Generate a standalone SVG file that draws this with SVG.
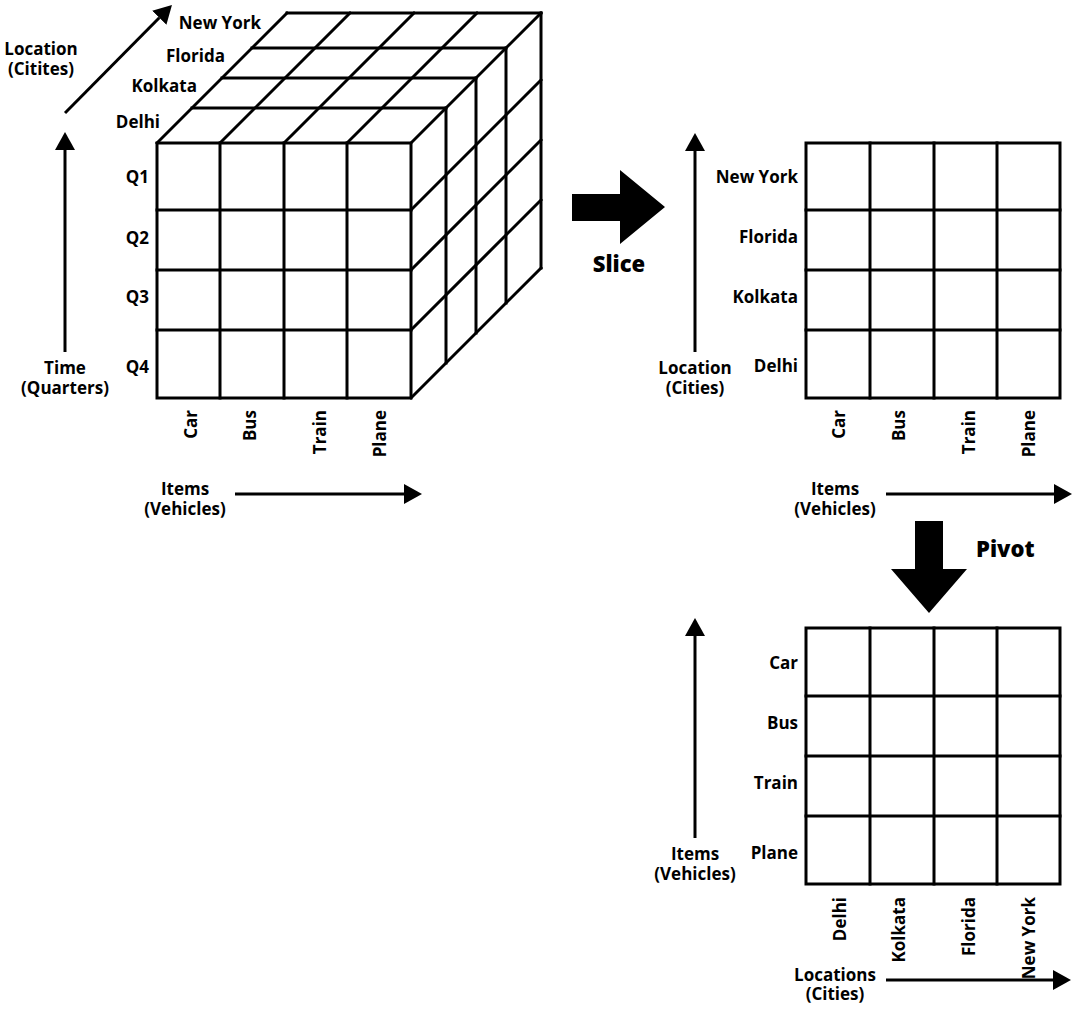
<svg xmlns="http://www.w3.org/2000/svg" width="1076" height="1012" viewBox="0 0 1076 1012">
<style>
.g{fill:none;stroke:#000;stroke-width:3;stroke-linecap:square}
.ax{fill:none;stroke:#000;stroke-width:3}
text{font-family:"Open Sans","Noto Sans","Liberation Sans",sans-serif;font-weight:bold;font-size:17px;fill:#000}
.e{text-anchor:end}
.m{text-anchor:middle}
.big{font-size:22px;font-weight:800}
</style>
<defs>
<marker id="ah" viewBox="0 0 18 20" refX="0" refY="10" markerWidth="18" markerHeight="20" markerUnits="userSpaceOnUse" orient="auto">
<path d="M0,0 L18,10 L0,20 z" fill="#000"/>
</marker>
</defs>
<rect width="1076" height="1012" fill="#fff"/>

<g id="cube">
<g class="g">
<rect x="157" y="143" width="254" height="255"/>
<path d="M220,143V398M284,143V398M347,143V398M157,210H411M157,270H411M157,330H411"/>
<path d="M192,108H446M222,78H476M252,48H506M287,13H541"/>
<path d="M157,143L287,13M220,143L350,13M284,143L414,13M347,143L477,13M411,143L541,13"/>
<path d="M446,108V363M476,78V333M506,48V303M541,13V268"/>
<path d="M411,210L541,80M411,270L541,140M411,330L541,200M411,398L541,268"/>
</g>
<text class="e" x="261" y="29">New York</text>
<text class="e" x="225" y="62">Florida</text>
<text class="e" x="197" y="92">Kolkata</text>
<text class="e" x="160" y="128">Delhi</text>
<text class="e" x="149" y="183">Q1</text>
<text class="e" x="149" y="244">Q2</text>
<text class="e" x="149" y="303">Q3</text>
<text class="e" x="149" y="373">Q4</text>
<text class="e" transform="translate(197,410) rotate(-90)">Car</text>
<text class="e" transform="translate(256,410) rotate(-90)">Bus</text>
<text class="e" transform="translate(326,410) rotate(-90)">Train</text>
<text class="e" transform="translate(386,410) rotate(-90)">Plane</text>
<text class="m" x="41" y="55">Location<tspan x="41" dy="20">(Citites)</tspan></text>
<text class="m" x="65" y="374">Time<tspan x="65" dy="20">(Quarters)</tspan></text>
<text class="m" x="185" y="495">Items<tspan x="185" dy="20">(Vehicles)</tspan></text>
</g>

<g id="slice-grid">
<g class="g">
<rect x="806" y="143" width="254" height="255"/>
<path d="M870,143V398M934,143V398M997,143V398M806,210H1060M806,270H1060M806,330H1060"/>
</g>
<text class="e" x="798" y="183">New York</text>
<text class="e" x="798" y="243">Florida</text>
<text class="e" x="798" y="303">Kolkata</text>
<text class="e" x="798" y="372">Delhi</text>
<text class="e" transform="translate(845,410) rotate(-90)">Car</text>
<text class="e" transform="translate(905,410) rotate(-90)">Bus</text>
<text class="e" transform="translate(975,410) rotate(-90)">Train</text>
<text class="e" transform="translate(1035,410) rotate(-90)">Plane</text>
<text class="m" x="695" y="374">Location<tspan x="695" dy="20">(Cities)</tspan></text>
<text class="m" x="835" y="495">Items<tspan x="835" dy="20">(Vehicles)</tspan></text>
</g>

<g id="pivot-grid">
<g class="g">
<rect x="806" y="628" width="254" height="256"/>
<path d="M870,628V884M934,628V884M997,628V884M806,696H1060M806,756H1060M806,816H1060"/>
</g>
<text class="e" x="798" y="669">Car</text>
<text class="e" x="798" y="729">Bus</text>
<text class="e" x="798" y="789">Train</text>
<text class="e" x="798" y="859">Plane</text>
<text class="e" transform="translate(846,897) rotate(-90)">Delhi</text>
<text class="e" transform="translate(905,897) rotate(-90)">Kolkata</text>
<text class="e" transform="translate(975,897) rotate(-90)">Florida</text>
<text class="e" transform="translate(1035,897) rotate(-90)">New York</text>
<text class="m" x="695" y="860">Items<tspan x="695" dy="20">(Vehicles)</tspan></text>
<text class="m" x="835" y="981">Locations<tspan x="835" dy="19">(Cities)</tspan></text>
</g>

<g id="slice-op">
<polygon points="572,194 620,194 620,170 665,207 620,244 620,221 572,221" fill="#000"/>
<text class="m big" x="619" y="272">Slice</text>
</g>

<g id="pivot-op">
<polygon points="915,521 943,521 943,569 967,569 929,613 891,569 915,569" fill="#000"/>
<text class="big" x="976" y="557">Pivot</text>
</g>

<g id="connectors" class="ax">
<line x1="65" y1="352" x2="65" y2="150" marker-end="url(#ah)"/>
<line x1="65" y1="113" x2="159.3" y2="17.8" marker-end="url(#ah)"/>
<line x1="235" y1="494" x2="404" y2="494" marker-end="url(#ah)"/>
<line x1="695" y1="352" x2="695" y2="151" marker-end="url(#ah)"/>
<line x1="886" y1="494" x2="1054" y2="494" marker-end="url(#ah)"/>
<line x1="695" y1="838" x2="695" y2="636" marker-end="url(#ah)"/>
<line x1="886" y1="980" x2="1053" y2="980" marker-end="url(#ah)"/>
</g>
</svg>
